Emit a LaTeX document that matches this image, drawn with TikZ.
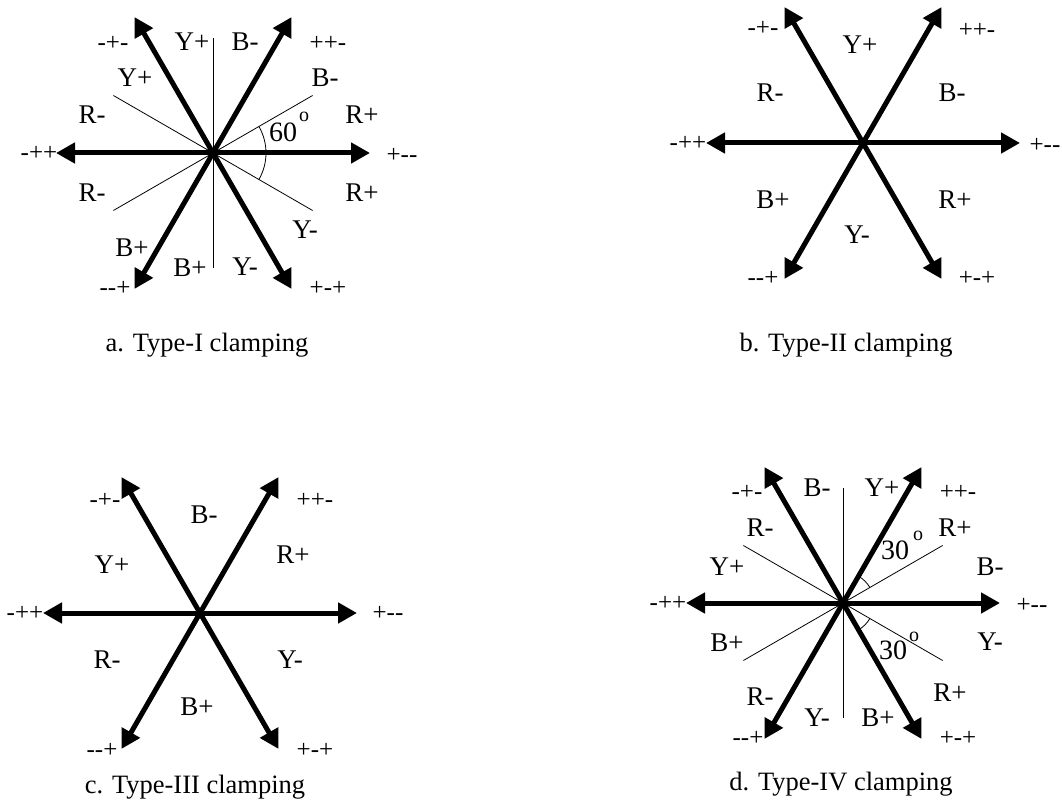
\documentclass[tikz,border=0pt]{standalone}
\usepackage{fontspec}
\setmainfont{Liberation Serif}
\usetikzlibrary{arrows.meta}
\begin{document}
\begin{tikzpicture}[x=1pt,y=1pt,
  vec/.style={line width=5pt,-{Triangle[length=19pt,width=20pt]}},
  thin/.style={line width=0.8pt},
  lab/.style={font=\fontsize{27}{27}\selectfont,inner sep=0pt},
  sgn/.style={font=\fontsize{25}{25}\selectfont,inner sep=0pt},
  num/.style={font=\fontsize{28}{28}\selectfont,inner sep=0pt},
  sup/.style={font=\fontsize{20}{20}\selectfont,inner sep=0pt},
  capt/.style={font=\fontsize{26.5}{26.5}\selectfont,inner sep=0pt,anchor=base}]
\useasboundingbox (0,0) rectangle (1062,801);

% ---------------- panel a ----------------
\begin{scope}[shift={(213,648)}]
  \coordinate (a-c) at (0,0);
  \foreach \ang/\nm in {0/e,60/ne,120/nw,180/w,240/sw,300/se}
    {\coordinate (a-\nm) at (\ang:157);}
  \foreach \ang/\nm in {30/t1,150/t2,210/t3,330/t4,90/t5,270/t6}
    {\coordinate (a-\nm) at (\ang:115);}
  \draw[thin] (a-t2) -- (a-t4);
  \draw[thin] (a-t1) -- (a-t3);
  \draw[thin] (a-t5) -- (a-t6);
  \foreach \nm in {e,ne,nw,w,sw,se} {\draw[vec] (a-c) -- (a-\nm);}
  \draw[thin] (-30:53) arc[start angle=-30,end angle=30,radius=53];
  \node[sgn] (a-l1) at (-100,110) {-+-};
  \node[lab] (a-l2) at (-21,111) {Y+};
  \node[lab] (a-l3) at (32,111) {B-};
  \node[sgn] (a-l4) at (115,110) {++-};
  \node[lab] (a-l5) at (-78,75) {Y+};
  \node[lab] (a-l6) at (112,75) {B-};
  \node[lab] (a-l7) at (-121,38) {R-};
  \node[lab] (a-l8) at (149,38) {R+};
  \node[sgn] (a-l9) at (-174,0) {-++};
  \node[sgn] (a-l10) at (189,-2) {+-{}-};
  \node[lab] (a-l11) at (-121,-40) {R-};
  \node[lab] (a-l12) at (149,-40) {R+};
  \node[lab] (a-l13) at (92,-77) {Y-};
  \node[lab] (a-l14) at (-81,-95) {B+};
  \node[lab] (a-l15) at (-23,-115) {B+};
  \node[lab] (a-l16) at (32,-114) {Y-};
  \node[sgn] (a-l17) at (-98,-135) {-{}-+};
  \node[sgn] (a-l18) at (115,-135) {+-+};
  \node[num] (a-n) at (70,21) {60};
  \node[sup] (a-o) at (91,36) {o};
\end{scope}
\node[capt] (a-cap) at (207,449) {a. Type-I clamping};

% ---------------- panel b ----------------
\begin{scope}[shift={(863,658)}]
  \coordinate (b-c) at (0,0);
  \foreach \ang/\nm in {0/e,60/ne,120/nw,180/w,240/sw,300/se}
    {\coordinate (b-\nm) at (\ang:157);}
  \foreach \nm in {e,ne,nw,w,sw,se} {\draw[vec] (b-c) -- (b-\nm);}
  \node[sgn] (b-l1) at (-100,115) {-+-};
  \node[lab] (b-l2) at (-3,98) {Y+};
  \node[sgn] (b-l3) at (114,113) {++-};
  \node[lab] (b-l4) at (-93,50) {R-};
  \node[lab] (b-l5) at (89,50) {B-};
  \node[sgn] (b-l6) at (-175,0) {-++};
  \node[sgn] (b-l7) at (182,-2) {+-{}-};
  \node[lab] (b-l8) at (-90,-57) {B+};
  \node[lab] (b-l9) at (92,-57) {R+};
  \node[lab] (b-l10) at (-6,-92) {Y-};
  \node[sgn] (b-l11) at (-100,-135) {-{}-+};
  \node[sgn] (b-l12) at (114,-135) {+-+};
\end{scope}
\node[capt] (b-cap) at (846,449) {b. Type-II clamping};

% ---------------- panel c ----------------
\begin{scope}[shift={(200,188)}]
  \coordinate (c-c) at (0,0);
  \foreach \ang/\nm in {0/e,60/ne,120/nw,180/w,240/sw,300/se}
    {\coordinate (c-\nm) at (\ang:157);}
  \foreach \nm in {e,ne,nw,w,sw,se} {\draw[vec] (c-c) -- (c-\nm);}
  \node[sgn] (c-l1) at (-95,113) {-+-};
  \node[lab] (c-l2) at (4,98) {B-};
  \node[sgn] (c-l3) at (115,113) {++-};
  \node[lab] (c-l4) at (93,58) {R+};
  \node[lab] (c-l5) at (-88,48) {Y+};
  \node[sgn] (c-l6) at (-175,0) {-++};
  \node[sgn] (c-l7) at (188,0) {+-{}-};
  \node[lab] (c-l8) at (-93,-47) {R-};
  \node[lab] (c-l9) at (90,-47) {Y-};
  \node[lab] (c-l10) at (-3,-94) {B+};
  \node[sgn] (c-l11) at (-98,-137) {-{}-+};
  \node[sgn] (c-l12) at (115,-137) {+-+};
\end{scope}
\node[capt] (c-cap) at (195,8) {c. Type-III clamping};

% ---------------- panel d ----------------
\begin{scope}[shift={(843,198)}]
  \coordinate (d-c) at (0,0);
  \foreach \ang/\nm in {0/e,60/ne,120/nw,180/w,240/sw,300/se}
    {\coordinate (d-\nm) at (\ang:157);}
  \foreach \ang/\nm in {30/t1,150/t2,210/t3,330/t4,90/t5,270/t6}
    {\coordinate (d-\nm) at (\ang:115);}
  \draw[thin] (d-t2) -- (d-t4);
  \draw[thin] (d-t1) -- (d-t3);
  \draw[thin] (d-t5) -- (d-t6);
  \foreach \nm in {e,ne,nw,w,sw,se} {\draw[vec] (d-c) -- (d-\nm);}
  \draw[thin] (30:31) arc[start angle=30,end angle=60,radius=31];
  \draw[thin] (-30:31) arc[start angle=-30,end angle=-60,radius=31];
  \node[sgn] (d-l1) at (-96,111) {-+-};
  \node[lab] (d-l2) at (-26,115) {B-};
  \node[lab] (d-l3) at (39,115) {Y+};
  \node[sgn] (d-l4) at (115,111) {++-};
  \node[lab] (d-l5) at (-83,75) {R-};
  \node[lab] (d-l6) at (112,75) {R+};
  \node[lab] (d-l7) at (-116,36) {Y+};
  \node[lab] (d-l8) at (147,36) {B-};
  \node[sgn] (d-l9) at (-175,0) {-++};
  \node[sgn] (d-l10) at (189,-2) {+-{}-};
  \node[lab] (d-l11) at (-116,-40) {B+};
  \node[lab] (d-l12) at (147,-39) {Y-};
  \node[lab] (d-l13) at (-83,-94) {R-};
  \node[lab] (d-l14) at (107,-90) {R+};
  \node[lab] (d-l15) at (-26,-115) {Y-};
  \node[lab] (d-l16) at (35,-115) {B+};
  \node[sgn] (d-l17) at (-95,-135) {-{}-+};
  \node[sgn] (d-l18) at (115,-135) {+-+};
  \node[num] (d-n1) at (52,53) {30};
  \node[sup] (d-o1) at (75,67) {o};
  \node[num] (d-n2) at (50,-47) {30};
  \node[sup] (d-o2) at (71,-34) {o};
\end{scope}
\node[capt] (d-cap) at (841,11) {d. Type-IV clamping};
\end{tikzpicture}
\end{document}
